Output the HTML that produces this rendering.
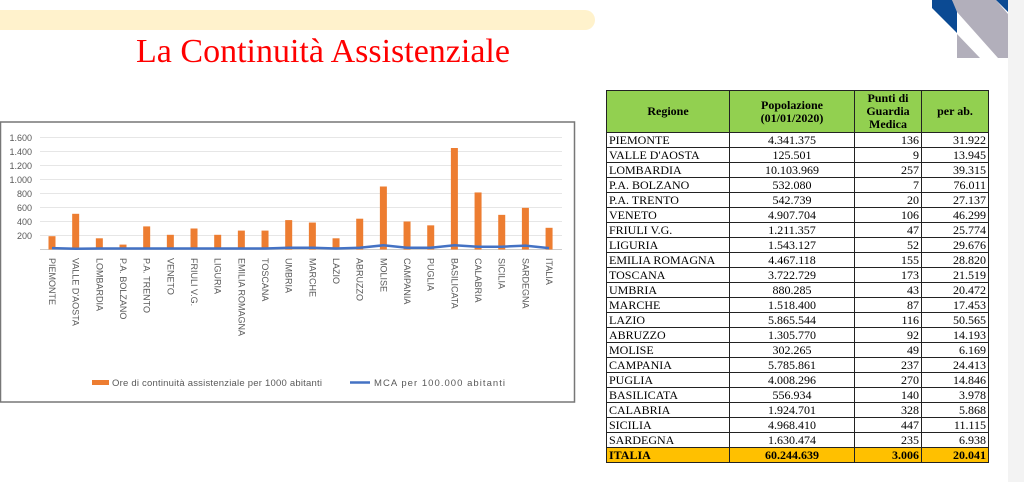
<!DOCTYPE html>
<html><head><meta charset="utf-8"><style>
body{margin:0;width:1024px;height:482px;background:#fff;position:relative;overflow:hidden;font-family:"Liberation Serif",serif}
.bar{position:absolute;left:0;top:10px;width:595px;height:20px;background:#fff2cc;border-radius:0 10px 10px 0}
.title{position:absolute;left:0;width:646px;top:33px;text-align:center;color:#f00;font-size:34px}
.strip{position:absolute;left:1008px;top:0;width:16px;height:482px;background:#f3f3f3}
table{position:absolute;left:606px;top:90px;border-collapse:collapse;font-size:12px;color:#000}
td{border:1px solid #222;height:14px;padding:0 2px;line-height:13px}
tr.h td{background:#92d050;font-weight:bold;text-align:center;height:41px;line-height:13px}
tr.i td{background:#ffc000;font-weight:bold}
td.c{text-align:center}td.r{text-align:right}
</style></head><body>
<div class="bar"></div>
<div class="title">La Continuità Assistenziale</div>
<div class="strip"></div>
<svg style="position:absolute;left:0;top:0" width="1024" height="482">
<polygon points="932,0 952,0 957,8 957,33 932,8" fill="#0b4a93"/>
<polygon points="952,0 996,0 1008,14 1008,58 998,58 957,12" fill="#b2afbb"/>
<polygon points="996,0 1008,0 1008,12" fill="#0b4a93"/>
<polygon points="957,34 957,58 980,58" fill="#b2afbb"/>
</svg>
<svg style="position:absolute;left:0;top:0" width="600" height="482" font-family="Liberation Sans, sans-serif">
<rect x="0.5" y="122" width="574" height="280" fill="#fff" stroke="#777" stroke-width="1.5"/>
<g stroke="#e6e6e6" stroke-width="1">
<line x1="40" x2="562" y1="137.5" y2="137.5"/><line x1="40" x2="562" y1="151.5" y2="151.5"/><line x1="40" x2="562" y1="165.5" y2="165.5"/><line x1="40" x2="562" y1="179.5" y2="179.5"/><line x1="40" x2="562" y1="193.5" y2="193.5"/><line x1="40" x2="562" y1="207.5" y2="207.5"/><line x1="40" x2="562" y1="221.5" y2="221.5"/><line x1="40" x2="562" y1="235.5" y2="235.5"/>
</g>
<line x1="40" x2="562" y1="249.5" y2="249.5" stroke="#ccc"/>
<g font-size="9" fill="#595959" text-anchor="end">
<text x="32" y="141">1.600</text><text x="32" y="155">1.400</text><text x="32" y="169">1.200</text><text x="32" y="183">1.000</text><text x="32" y="197">800</text><text x="32" y="211">600</text><text x="32" y="225">400</text><text x="32" y="239">200</text>
</g>
<g fill="#ed7d31" id="bars"></g>
<polyline id="ln" fill="none" stroke="#4472c4" stroke-width="2.5"/>
<g id="lbl" font-size="9" fill="#595959"></g>
<rect x="92" y="380" width="17" height="5" fill="#ed7d31"/>
<text x="112" y="386" font-size="9.5" fill="#595959" textLength="210">Ore di continuità assistenziale per 1000 abitanti</text>
<line x1="350" x2="370" y1="382.5" y2="382.5" stroke="#4472c4" stroke-width="2.5"/>
<text x="374" y="386" font-size="9.5" fill="#595959" textLength="131">MCA per 100.000 abitanti</text>
</svg>
<script>
var n=["PIEMONTE","VALLE D'AOSTA","LOMBARDIA","P.A. BOLZANO","P.A. TRENTO","VENETO","FRIULI V.G.","LIGURIA","EMILIA ROMAGNA","TOSCANA","UMBRIA","MARCHE","LAZIO","ABRUZZO","MOLISE","CAMPANIA","PUGLIA","BASILICATA","CALABRIA","SICILIA","SARDEGNA","ITALIA"];
var v=[190,510,160,70,330,210,300,210,270,270,420,385,160,440,900,400,345,1450,815,495,595,310];
var m=[20,10,15,15,15,15,15,15,15,15,25,25,15,25,60,25,25,60,40,40,55,20];
var ns="http://www.w3.org/2000/svg",b=document.getElementById("bars"),l=document.getElementById("lbl"),pts=[];
for(var i=0;i<22;i++){var x=52+i*23.67,h=v[i]*0.07;
var r=document.createElementNS(ns,"rect");r.setAttribute("x",x-3.5);r.setAttribute("y",249.5-h);r.setAttribute("width",7);r.setAttribute("height",h);b.appendChild(r);
pts.push(x+","+(249.5-m[i]*0.07));
var t=document.createElementNS(ns,"text");t.setAttribute("transform","translate("+(x-3)+",258) rotate(90)");t.textContent=n[i];l.appendChild(t);}
document.getElementById("ln").setAttribute("points",pts.join(" "));
</script>
<table>
<colgroup><col style="width:123px"><col style="width:125px"><col style="width:67px"><col style="width:67px"></colgroup>
<tr class="h"><td>Regione</td><td>Popolazione<br>(01/01/2020)</td><td>Punti di<br>Guardia<br>Medica</td><td>per ab.</td></tr>
<tr><td>PIEMONTE</td><td class="c">4.341.375</td><td class="r">136</td><td class="r">31.922</td></tr>
<tr><td>VALLE D'AOSTA</td><td class="c">125.501</td><td class="r">9</td><td class="r">13.945</td></tr>
<tr><td>LOMBARDIA</td><td class="c">10.103.969</td><td class="r">257</td><td class="r">39.315</td></tr>
<tr><td>P.A. BOLZANO</td><td class="c">532.080</td><td class="r">7</td><td class="r">76.011</td></tr>
<tr><td>P.A. TRENTO</td><td class="c">542.739</td><td class="r">20</td><td class="r">27.137</td></tr>
<tr><td>VENETO</td><td class="c">4.907.704</td><td class="r">106</td><td class="r">46.299</td></tr>
<tr><td>FRIULI V.G.</td><td class="c">1.211.357</td><td class="r">47</td><td class="r">25.774</td></tr>
<tr><td>LIGURIA</td><td class="c">1.543.127</td><td class="r">52</td><td class="r">29.676</td></tr>
<tr><td>EMILIA ROMAGNA</td><td class="c">4.467.118</td><td class="r">155</td><td class="r">28.820</td></tr>
<tr><td>TOSCANA</td><td class="c">3.722.729</td><td class="r">173</td><td class="r">21.519</td></tr>
<tr><td>UMBRIA</td><td class="c">880.285</td><td class="r">43</td><td class="r">20.472</td></tr>
<tr><td>MARCHE</td><td class="c">1.518.400</td><td class="r">87</td><td class="r">17.453</td></tr>
<tr><td>LAZIO</td><td class="c">5.865.544</td><td class="r">116</td><td class="r">50.565</td></tr>
<tr><td>ABRUZZO</td><td class="c">1.305.770</td><td class="r">92</td><td class="r">14.193</td></tr>
<tr><td>MOLISE</td><td class="c">302.265</td><td class="r">49</td><td class="r">6.169</td></tr>
<tr><td>CAMPANIA</td><td class="c">5.785.861</td><td class="r">237</td><td class="r">24.413</td></tr>
<tr><td>PUGLIA</td><td class="c">4.008.296</td><td class="r">270</td><td class="r">14.846</td></tr>
<tr><td>BASILICATA</td><td class="c">556.934</td><td class="r">140</td><td class="r">3.978</td></tr>
<tr><td>CALABRIA</td><td class="c">1.924.701</td><td class="r">328</td><td class="r">5.868</td></tr>
<tr><td>SICILIA</td><td class="c">4.968.410</td><td class="r">447</td><td class="r">11.115</td></tr>
<tr><td>SARDEGNA</td><td class="c">1.630.474</td><td class="r">235</td><td class="r">6.938</td></tr>
<tr class="i"><td>ITALIA</td><td class="c">60.244.639</td><td class="r">3.006</td><td class="r">20.041</td></tr>
</table>
</body></html>
